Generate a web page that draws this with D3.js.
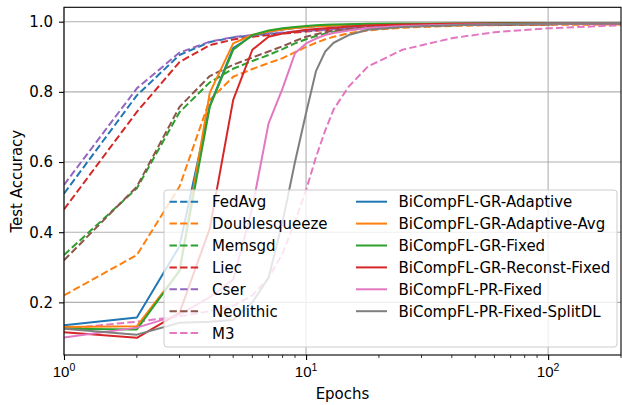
<!DOCTYPE html>
<html>
<head>
<meta charset="utf-8">
<script src="https://cdn.jsdelivr.net/npm/d3@7"></script>
<style>
  body { margin: 0; background: #fff; }
  svg { display: block; font-family: "DejaVu Sans", sans-serif; }
</style>
</head>
<body>
<div id="chart"></div>
<script>
const WIDTH = 622
const HEIGHT = 405
const margin = {top: 7.3, right: 1, bottom: 50, left: 64}

const epochs = [1, 2, 3, 4, 5, 6, 7, 8, 9, 10, 11, 12, 13, 15, 18, 25, 40, 60, 100, 200]

// dashed baselines
const fedAvg        = [0.51, 0.79, 0.905, 0.942, 0.955, 0.961, 0.965, 0.968, 0.971, 0.974, 0.976, 0.977, 0.979, 0.981, 0.984, 0.988, 0.991, 0.992, 0.993, 0.994]
const doublesqueeze = [0.22, 0.335, 0.53, 0.777, 0.843, 0.865, 0.882, 0.896, 0.913, 0.928, 0.94, 0.95, 0.957, 0.967, 0.975, 0.983, 0.988, 0.99, 0.991, 0.992]
const memsgd        = [0.335, 0.525, 0.742, 0.827, 0.866, 0.888, 0.905, 0.922, 0.938, 0.95, 0.959, 0.966, 0.971, 0.977, 0.982, 0.987, 0.99, 0.992, 0.993, 0.994]
const liec          = [0.465, 0.743, 0.885, 0.933, 0.949, 0.957, 0.962, 0.966, 0.969, 0.972, 0.974, 0.976, 0.978, 0.98, 0.983, 0.987, 0.99, 0.992, 0.993, 0.994]
const cser          = [0.535, 0.81, 0.912, 0.943, 0.956, 0.962, 0.966, 0.969, 0.972, 0.974, 0.976, 0.977, 0.979, 0.981, 0.984, 0.988, 0.991, 0.992, 0.993, 0.994]
const neolithic     = [0.32, 0.53, 0.757, 0.845, 0.877, 0.898, 0.915, 0.93, 0.945, 0.957, 0.964, 0.97, 0.974, 0.979, 0.984, 0.988, 0.991, 0.992, 0.993, 0.994]
const m3            = [0.125, 0.145, 0.16, 0.175, 0.19, 0.22, 0.27, 0.34, 0.43, 0.52, 0.615, 0.69, 0.75, 0.815, 0.872, 0.92, 0.953, 0.97, 0.981, 0.99]

// BiCompFL variants (solid)
const grAdaptive    = [0.135, 0.157, 0.36, 0.76, 0.925, 0.96, 0.972, 0.978, 0.982, 0.985, 0.987, 0.988, 0.989, 0.991, 0.992, 0.993, 0.994, 0.995, 0.995, 0.995]
const grAdaptiveAvg = [0.13, 0.132, 0.29, 0.797, 0.938, 0.962, 0.972, 0.978, 0.982, 0.985, 0.987, 0.988, 0.989, 0.991, 0.992, 0.993, 0.994, 0.995, 0.995, 0.995]
const grFixed       = [0.125, 0.123, 0.29, 0.757, 0.92, 0.962, 0.975, 0.981, 0.985, 0.988, 0.99, 0.991, 0.992, 0.993, 0.994, 0.995, 0.995, 0.996, 0.996, 0.996]
const grReconst     = [0.115, 0.099, 0.17, 0.41, 0.777, 0.92, 0.957, 0.966, 0.972, 0.977, 0.979, 0.981, 0.983, 0.986, 0.989, 0.992, 0.994, 0.995, 0.995, 0.995]
const prFixed       = [0.1, 0.128, 0.165, 0.215, 0.265, 0.47, 0.71, 0.81, 0.91, 0.938, 0.952, 0.962, 0.968, 0.975, 0.982, 0.988, 0.991, 0.993, 0.994, 0.995]
const prSplitDL     = [0.125, 0.108, 0.142, 0.145, 0.15, 0.2, 0.27, 0.43, 0.6, 0.74, 0.86, 0.915, 0.94, 0.962, 0.977, 0.985, 0.99, 0.993, 0.994, 0.995]

const names = ['FedAvg', 'Doublesqueeze', 'Memsgd', 'Liec', 'Cser', 'Neolithic', 'M3',
  'BiCompFL-GR-Adaptive', 'BiCompFL-GR-Adaptive-Avg', 'BiCompFL-GR-Fixed',
  'BiCompFL-GR-Reconst-Fixed', 'BiCompFL-PR-Fixed', 'BiCompFL-PR-Fixed-SplitDL']
const values = [fedAvg, doublesqueeze, memsgd, liec, cser, neolithic, m3,
  grAdaptive, grAdaptiveAvg, grFixed, grReconst, prFixed, prSplitDL]
const colors = ['#1f77b4', '#ff7f0e', '#2ca02c', '#d62728', '#9467bd', '#8c564b', '#e377c2',
  '#1f77b4', '#ff7f0e', '#2ca02c', '#d62728', '#e377c2', '#7f7f7f']

const yTicks = [0.2, 0.4, 0.6, 0.8, 1.0]
const xMajor = [1, 10, 100]

const series = names.map((name, i) => ({
  name: name,
  values: values[i],
  color: colors[i],
  dashed: i < 7
}))

const svg = d3.select('#chart').append('svg').attr('width', WIDTH).attr('height', HEIGHT)

const x = d3.scaleLog().domain([1, 200]).range([margin.left, WIDTH - margin.right])
const y = d3.scaleLinear().domain([0.05, 1.041]).range([HEIGHT - margin.bottom, margin.top])

const plotW = WIDTH - margin.left - margin.right
const plotH = HEIGHT - margin.top - margin.bottom

svg.append('defs').append('clipPath').attr('id', 'clip')
  .append('rect')
  .attr('x', margin.left).attr('y', margin.top)
  .attr('width', plotW).attr('height', plotH)

// grid
const grid = svg.append('g').attr('stroke', '#b0b0b0').attr('stroke-width', 1.1)
grid.selectAll('.gx').data(xMajor).enter().append('line')
  .attr('x1', d => x(d)).attr('x2', d => x(d))
  .attr('y1', margin.top).attr('y2', HEIGHT - margin.bottom)
grid.selectAll('.gy').data(yTicks).enter().append('line')
  .attr('x1', margin.left).attr('x2', WIDTH - margin.right)
  .attr('y1', d => y(d)).attr('y2', d => y(d))

// lines
const line = d3.line()
  .x((d, i) => x(epochs[i]))
  .y(d => y(d))

svg.append('g').attr('clip-path', 'url(#clip)')
  .selectAll('path')
  .data(series)
  .enter()
  .append('path')
    .attr('d', d => line(d.values))
    .attr('fill', 'none')
    .attr('stroke', d => d.color)
    .attr('stroke-width', 2)
    .attr('stroke-linejoin', 'round')
    .attr('stroke-dasharray', d => d.dashed ? '7.4,3.2' : null)

// axes
const xAxis = d3.axisBottom(x).tickValues(xMajor).tickSize(5).tickPadding(4).tickFormat(() => '')
const gx = svg.append('g')
  .attr('transform', `translate(0,${HEIGHT - margin.bottom})`)
  .call(xAxis)
gx.select('.domain').remove()
gx.selectAll('line').attr('stroke', '#000').attr('stroke-width', 1.1)

const minor = []
for (let p = 1; p <= 100; p *= 10) {
  for (let k = 2; k <= 9; k++) {
    if (k * p <= 200) minor.push(k * p)
  }
}
gx.selectAll('.minor').data(minor).enter().append('line')
  .attr('class', 'minor')
  .attr('x1', d => x(d)).attr('x2', d => x(d))
  .attr('y1', 0).attr('y2', 3)
  .attr('stroke', '#000').attr('stroke-width', 0.8)

const xlabels = gx.selectAll('.xl').data(xMajor).enter().append('text')
  .attr('x', d => x(d)).attr('y', 22)
  .attr('text-anchor', 'middle')
  .attr('font-size', 15)
  .attr('fill', '#000')
xlabels.append('tspan').text('10')
xlabels.append('tspan').attr('dy', -6.5).attr('font-size', 10.5).text(d => Math.round(Math.log10(d)))

const yAxis = d3.axisLeft(y).tickValues(yTicks).tickSize(5).tickPadding(6).tickFormat(d3.format('.1f'))
const gy = svg.append('g')
  .attr('transform', `translate(${margin.left},0)`)
  .call(yAxis)
gy.select('.domain').remove()
gy.selectAll('line').attr('stroke', '#000').attr('stroke-width', 1.1)
gy.selectAll('text').attr('font-size', 15).attr('font-family', 'DejaVu Sans').attr('fill', '#000')

// frame
svg.append('rect')
  .attr('x', margin.left).attr('y', margin.top)
  .attr('width', plotW).attr('height', plotH)
  .attr('fill', 'none').attr('stroke', '#000').attr('stroke-width', 1.1)

// axis titles
svg.append('text')
  .attr('x', margin.left + plotW / 2).attr('y', 399)
  .attr('text-anchor', 'middle').attr('font-size', 15)
  .text('Epochs')
svg.append('text')
  .attr('transform', `translate(22,${margin.top + plotH / 2}) rotate(-90)`)
  .attr('text-anchor', 'middle').attr('font-size', 15)
  .text('Test Accuracy')

// legend
const legend = svg.append('g')
legend.append('rect')
  .attr('x', 164).attr('y', 190)
  .attr('width', 453).attr('height', 157)
  .attr('rx', 3)
  .attr('fill', '#fff').attr('fill-opacity', 0.8)
  .attr('stroke', '#cccccc').attr('stroke-width', 1)

const ROW = 21.9
const items = legend.selectAll('.item')
  .data(series)
  .enter()
  .append('g')
    .attr('transform', (d, i) => {
      let col = i < 7 ? 0 : 1
      let row = i < 7 ? i : i - 7
      let lx = col === 0 ? 169.5 : 356
      return `translate(${lx},${201.7 + row * ROW})`
    })
items.append('line')
  .attr('x1', 0).attr('x2', 31)
  .attr('stroke', d => d.color)
  .attr('stroke-width', 2)
  .attr('stroke-dasharray', d => d.dashed ? '7.4,3.2' : null)
items.append('text')
  .attr('x', 42.5).attr('dy', '0.36em')
  .attr('font-size', 15)
  .text(d => d.name)
</script>
</body>
</html>
